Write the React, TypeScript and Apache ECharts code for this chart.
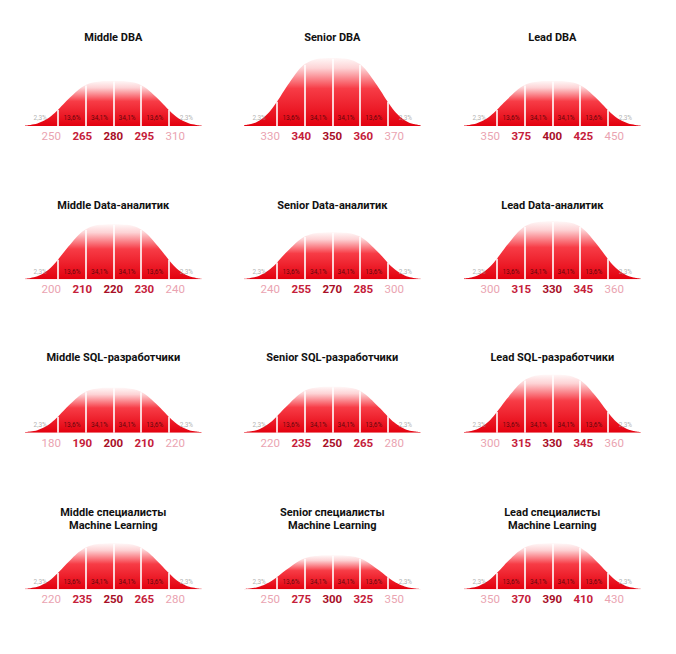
import React, { useEffect, useRef } from "react";
import * as echarts from "echarts";

// ---- data ----
const titles = [
  "Middle DBA",
  "Senior DBA",
  "Lead DBA",
  "Middle Data-аналитик",
  "Senior Data-аналитик",
  "Lead Data-аналитик",
  "Middle SQL-разработчики",
  "Senior SQL-разработчики",
  "Lead SQL-разработчики",
  "Middle специалисты\nMachine Learning",
  "Senior специалисты\nMachine Learning",
  "Lead специалисты\nMachine Learning",
];

const tickLabels = [
  ["250", "265", "280", "295", "310"],
  ["330", "340", "350", "360", "370"],
  ["350", "375", "400", "425", "450"],
  ["200", "210", "220", "230", "240"],
  ["240", "255", "270", "285", "300"],
  ["300", "315", "330", "345", "360"],
  ["180", "190", "200", "210", "220"],
  ["220", "235", "250", "265", "280"],
  ["300", "315", "330", "345", "360"],
  ["220", "235", "250", "265", "280"],
  ["250", "275", "300", "325", "350"],
  ["350", "370", "390", "410", "430"],
];

// curve peak heights
const peakHeights = [45, 68, 45, 55, 47, 58, 45, 46, 58, 46, 34, 46];

const percentLabels = ["2,3%", "13,6%", "34,1%", "34,1%", "13,6%", "2,3%"];
const percentPositions = [-2.65, -1.5, -0.5, 0.5, 1.5, 2.65];
const dividerPositions = [-2, -1, 0, 1, 2];

// bell-shape profile (in sigma units), relative height
const profileX = [
  -3.2, -3, -2.75, -2.5, -2.25, -2, -1.75, -1.5, -1.25, -1, -0.75, -0.5, -0.25, 0,
  0.25, 0.5, 0.75, 1, 1.25, 1.5, 1.75, 2, 2.25, 2.5, 2.75, 3, 3.2,
];
const profileY = [
  0.01, 0.025, 0.055, 0.12, 0.22, 0.36, 0.52, 0.67, 0.81, 0.91, 0.965, 0.99, 0.998, 1,
  0.998, 0.99, 0.965, 0.91, 0.81, 0.67, 0.52, 0.36, 0.22, 0.12, 0.055, 0.025, 0.01,
];

// ---- layout ----
const colCenters = [113.3, 332.3, 552.3];
const baselines = [126, 279.3, 432.7, 589.3];
const titleY = [37, 205, 357, 519];
const SIGMA_PX = 27.6;
const X_EXTENT = 3.2;
const Y_MAX = 70;
const LABEL_SPACING = 31;
const PCT_Y = 7.7;

export default function App() {
  const ref = useRef<HTMLDivElement>(null);

  useEffect(() => {
    if (!ref.current) return;
    const chart = echarts.init(ref.current, undefined, { renderer: "svg" });

    const grids: any[] = [];
    const xAxes: any[] = [];
    const yAxes: any[] = [];
    const series: any[] = [];
    const graphics: any[] = [];

    titles.forEach((t, i) => {
      const r = Math.floor(i / 3);
      const c = i % 3;
      const cx = colCenters[c];
      const by = baselines[r];
      const half = X_EXTENT * SIGMA_PX;
      const peak = peakHeights[i];

      grids.push({ left: cx - half, top: by - Y_MAX, width: 2 * half, height: Y_MAX });
      grids.push({ left: cx - 2.5 * LABEL_SPACING, top: by - 1, width: 5 * LABEL_SPACING, height: 1 });

      xAxes.push({ type: "value", gridIndex: 2 * i, min: -X_EXTENT, max: X_EXTENT, show: false });
      xAxes.push({
        type: "category",
        gridIndex: 2 * i + 1,
        data: tickLabels[i],
        boundaryGap: true,
        axisLine: { show: false },
        axisTick: { show: false },
        splitLine: { show: false },
        axisLabel: {
          interval: 0,
          margin: 4,
          formatter: (v: string, idx: number) =>
            idx === 2 ? `{c|${v}}` : idx === 0 || idx === 4 ? `{o|${v}}` : `{m|${v}}`,
          rich: {
            o: { color: "#eaa3b1", fontSize: 11.5, fontFamily: "Roboto" },
            m: { color: "#c5203a", fontSize: 11.5, fontFamily: "Roboto", fontWeight: "bold" },
            c: { color: "#a80f27", fontSize: 11.5, fontFamily: "Roboto", fontWeight: "bold" },
          },
        },
      });
      yAxes.push({ type: "value", gridIndex: 2 * i, min: 0, max: Y_MAX, show: false });
      yAxes.push({ type: "value", gridIndex: 2 * i + 1, show: false });

      const dividerSegments = dividerPositions.map((x) => {
        const k = profileX.indexOf(x);
        const h = profileY[k] * peak * 0.99;
        return [{ coord: [x, 0] }, { coord: [x, h] }];
      });

      series.push({
        type: "line",
        xAxisIndex: 2 * i,
        yAxisIndex: 2 * i,
        data: profileX.map((x, k) => [x, profileY[k] * peak]),
        smooth: 0.3,
        symbol: "none",
        lineStyle: { width: 0 },
        areaStyle: {
          opacity: 1,
          color: new echarts.graphic.LinearGradient(0, 0, 0, 1, [
            { offset: 0, color: "#fff7f7" },
            { offset: 0.15, color: "#fdd3d5" },
            { offset: 0.45, color: "#f73c46" },
            { offset: 1, color: "#e3000e" },
          ]),
        },
        markLine: {
          silent: true,
          symbol: "none",
          label: { show: false },
          lineStyle: { color: "#ffffff", width: 1.6, type: "solid", opacity: 1 },
          data: dividerSegments,
        },
        z: 2,
      });

      series.push({
        type: "scatter",
        xAxisIndex: 2 * i,
        yAxisIndex: 2 * i,
        symbolSize: 1,
        itemStyle: { color: "rgba(0,0,0,0)" },
        data: percentPositions.map((x, k) => ({
          value: [x, PCT_Y],
          label: { color: k === 0 || k === 5 ? "#9c9c9c" : "#3a0508" },
        })),
        label: {
          show: true,
          position: "inside",
          fontSize: 6.5,
          fontFamily: "Roboto",
          formatter: (p: any) => percentLabels[p.dataIndex],
        },
        z: 5,
      });

      graphics.push({
        type: "text",
        x: cx,
        y: titleY[r],
        z: 100,
        style: {
          text: t,
          align: "center",
          verticalAlign: "middle",
          textAlign: "center",
          textVerticalAlign: "middle",
          font: "bold 11px Roboto",
          fill: "#111111",
          lineHeight: 12.5,
        },
      });
    });

    chart.setOption({
      animation: false,
      backgroundColor: "#ffffff",
      grid: grids,
      xAxis: xAxes,
      yAxis: yAxes,
      series,
      graphic: graphics,
    });

    return () => chart.dispose();
  }, []);

  return (
    <div
      ref={ref}
      style={{ position: "absolute", left: 0, top: 0, width: 676, height: 654 }}
    />
  );
}
